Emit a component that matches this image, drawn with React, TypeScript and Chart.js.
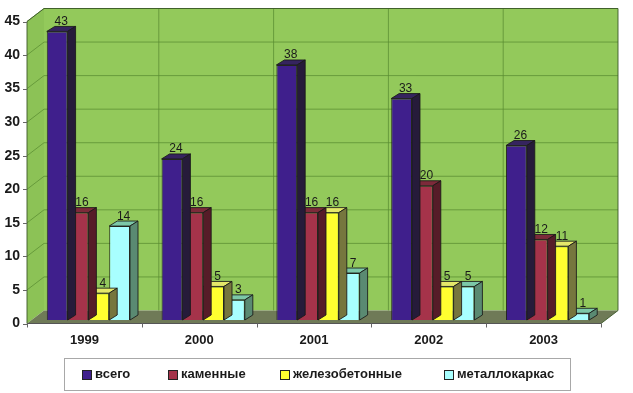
import React, { useEffect, useRef } from "react";
import { Chart, registerables } from "chart.js";
Chart.register(...registerables);

const categories = ["1999", "2000", "2001", "2002", "2003"];
const seriesNames = ["всего", "каменные", "железобетонные", "металлокаркас"];
const totalValues = [43, 24, 38, 33, 26];
const stoneValues = [16, 16, 16, 20, 12];
const concreteValues = [4, 5, 16, 5, 11];
const metalValues = [14, 3, 7, 5, 1];
const yMax = 45;
const yStep = 5;

const frontColors = ["#3f1f8c", "#a5334a", "#ffff30", "#a8ffff"];
const topColors = ["#35245e", "#7d2a3a", "#e4e86a", "#7cc8a8"];
const sideColors = ["#261b3a", "#561c28", "#76763e", "#5a8a72"];
const edgeColor = "rgba(25,25,25,0.85)";

const WALL_DX = 17;
const WALL_DY = 13;
const BAR_SHIFT_X = 4;
const BAR_SHIFT_Y = 3.5;
const BAR_DX = 8;
const BAR_DY = 5;

function poly(ctx: CanvasRenderingContext2D, pts: number[][], fill: string, stroke?: string) {
  ctx.beginPath();
  ctx.moveTo(pts[0][0], pts[0][1]);
  for (let i = 1; i < pts.length; i++) ctx.lineTo(pts[i][0], pts[i][1]);
  ctx.closePath();
  ctx.fillStyle = fill;
  ctx.fill();
  if (stroke) {
    ctx.strokeStyle = stroke;
    ctx.lineWidth = 1;
    ctx.stroke();
  }
}

const plot3d = {
  id: "plot3d",
  beforeDatasetsDraw(chart: any) {
    const { ctx, chartArea: a, scales } = chart;
    const ys = scales.y;
    const xs = scales.x;
    const w = a.right - a.left;
    const h = a.bottom - a.top;
    ctx.save();
    // back wall
    ctx.fillStyle = "#93c95b";
    ctx.fillRect(a.left + WALL_DX, a.top - WALL_DY, w, h);
    // side wall
    poly(ctx, [[a.left, a.top], [a.left + WALL_DX, a.top - WALL_DY], [a.left + WALL_DX, a.bottom - WALL_DY], [a.left, a.bottom]], "#8cc256");
    // floor
    poly(ctx, [[a.left, a.bottom], [a.right, a.bottom], [a.right + WALL_DX, a.bottom - WALL_DY], [a.left + WALL_DX, a.bottom - WALL_DY]], "#6f7a57");
    // horizontal grid
    ctx.lineWidth = 1;
    ctx.strokeStyle = "rgba(90,140,50,0.75)";
    for (let v = yStep; v <= yMax; v += yStep) {
      const yy = ys.getPixelForValue(v);
      ctx.beginPath();
      ctx.moveTo(a.left, yy);
      ctx.lineTo(a.left + WALL_DX, yy - WALL_DY);
      ctx.lineTo(a.right + WALL_DX, yy - WALL_DY);
      ctx.stroke();
    }
    // vertical grid at category boundaries
    for (let i = 1; i < categories.length; i++) {
      const xx = (xs.getPixelForValue(i - 1) + xs.getPixelForValue(i)) / 2;
      ctx.beginPath();
      ctx.moveTo(xx + WALL_DX, a.top - WALL_DY);
      ctx.lineTo(xx + WALL_DX, a.bottom - WALL_DY);
      ctx.stroke();
    }
    // wall edges
    ctx.strokeStyle = "rgba(60,90,40,0.9)";
    ctx.beginPath();
    ctx.moveTo(a.left, a.bottom);
    ctx.lineTo(a.left, a.top);
    ctx.lineTo(a.left + WALL_DX, a.top - WALL_DY);
    ctx.lineTo(a.right + WALL_DX, a.top - WALL_DY);
    ctx.lineTo(a.right + WALL_DX, a.bottom - WALL_DY);
    ctx.lineTo(a.right, a.bottom);
    ctx.stroke();
    ctx.strokeStyle = "#555";
    ctx.beginPath();
    ctx.moveTo(a.left, a.bottom);
    ctx.lineTo(a.right, a.bottom);
    ctx.stroke();
    // ticks
    ctx.strokeStyle = "#666";
    for (let v = 0; v <= yMax; v += yStep) {
      const yy = Math.round(ys.getPixelForValue(v)) + 0.5;
      ctx.beginPath();
      ctx.moveTo(a.left - 4, yy);
      ctx.lineTo(a.left, yy);
      ctx.stroke();
    }
    for (let i = 0; i <= categories.length; i++) {
      const xx = Math.round(a.left + (w * i) / categories.length) + 0.5;
      ctx.beginPath();
      ctx.moveTo(xx, a.bottom);
      ctx.lineTo(xx, a.bottom + 4);
      ctx.stroke();
    }
    ctx.restore();
    ctx.save();
    ctx.translate(BAR_SHIFT_X, -BAR_SHIFT_Y);
  },
  afterDatasetDraw(chart: any, args: any) {
    const { ctx } = chart;
    const di = args.index;
    const meta = chart.getDatasetMeta(di);
    meta.data.forEach((bar: any) => {
      const p = bar.getProps(["x", "y", "base", "width"], true);
      const l = p.x - p.width / 2;
      const r = p.x + p.width / 2;
      const t = p.y;
      const b = p.base;
      poly(ctx, [[l, t], [l + BAR_DX, t - BAR_DY], [r + BAR_DX, t - BAR_DY], [r, t]], topColors[di], edgeColor);
      poly(ctx, [[r, t], [r + BAR_DX, t - BAR_DY], [r + BAR_DX, b - BAR_DY], [r, b]], sideColors[di], edgeColor);
    });
  },
  afterDatasetsDraw(chart: any) {
    const { ctx } = chart;
    ctx.font = "12px Arial, 'Liberation Sans', sans-serif";
    ctx.fillStyle = "#1a1a1a";
    ctx.textAlign = "center";
    ctx.textBaseline = "alphabetic";
    chart.data.datasets.forEach((ds: any, di: number) => {
      const meta = chart.getDatasetMeta(di);
      meta.data.forEach((bar: any, i: number) => {
        const p = bar.getProps(["x", "y"], true);
        ctx.fillText(String(ds.data[i]), p.x + BAR_DX / 2, p.y - BAR_DY - 1.5);
      });
    });
    ctx.restore();
  },
};

export default function App() {
  const ref = useRef<HTMLCanvasElement>(null);
  useEffect(() => {
    document.body.style.margin = "0";
    const chart = new Chart(ref.current!, {
      type: "bar",
      data: {
        labels: categories,
        datasets: [totalValues, stoneValues, concreteValues, metalValues].map((d, i) => ({
          label: seriesNames[i],
          data: d,
          backgroundColor: frontColors[i],
          borderColor: edgeColor,
          borderWidth: 1,
          categoryPercentage: 0.725,
          barPercentage: 1,
          clip: false as any,
        })),
      },
      options: {
        responsive: false,
        animation: false,
        events: [],
        layout: { padding: { left: 0, top: 21.5, right: 32, bottom: 39.5 } },
        plugins: { legend: { display: false }, tooltip: { enabled: false } },
        scales: {
          x: {
            grid: { display: false, drawTicks: false },
            border: { display: false },
            ticks: {
              color: "#1a1a1a",
              font: { family: "Arial, 'Liberation Sans', sans-serif", size: 13, weight: "bold" },
              padding: 9,
            },
            afterFit: (s: any) => {
              s.height = 30;
            },
          },
          y: {
            min: 0,
            max: yMax,
            grid: { display: false, drawTicks: false },
            border: { display: false },
            ticks: {
              stepSize: yStep,
              color: "#1a1a1a",
              font: { family: "Arial, 'Liberation Sans', sans-serif", size: 14, weight: "bold" },
              padding: 7,
            },
            afterFit: (s: any) => {
              s.width = 27;
            },
          },
        },
      },
      plugins: [plot3d],
    });
    return () => chart.destroy();
  }, []);

  const legendItems = [
    { sq: 17, tx: 30 },
    { sq: 103, tx: 116 },
    { sq: 215, tx: 228 },
    { sq: 379, tx: 392 },
  ];

  return (
    <div style={{ position: "fixed", left: 0, top: 0, width: 633, height: 393, background: "#fff" }}>
      <canvas ref={ref} width={633} height={393} style={{ display: "block", width: 633, height: 393 }} />
      <div
        style={{
          position: "absolute",
          left: 64,
          top: 358,
          width: 505,
          height: 31,
          border: "1px solid #a8a8a8",
          fontFamily: "Arial, 'Liberation Sans', sans-serif",
          fontWeight: "bold",
          fontSize: 13,
          color: "#1a1a1a",
        }}
      >
        {seriesNames.map((n, i) => (
          <React.Fragment key={n}>
            <div
              style={{
                position: "absolute",
                left: legendItems[i].sq,
                top: 11,
                width: 8,
                height: 8,
                background: frontColors[i],
                border: "1px solid #222",
              }}
            />
            <div style={{ position: "absolute", left: legendItems[i].tx, top: 7, lineHeight: "16px", whiteSpace: "nowrap" }}>{n}</div>
          </React.Fragment>
        ))}
      </div>
    </div>
  );
}
